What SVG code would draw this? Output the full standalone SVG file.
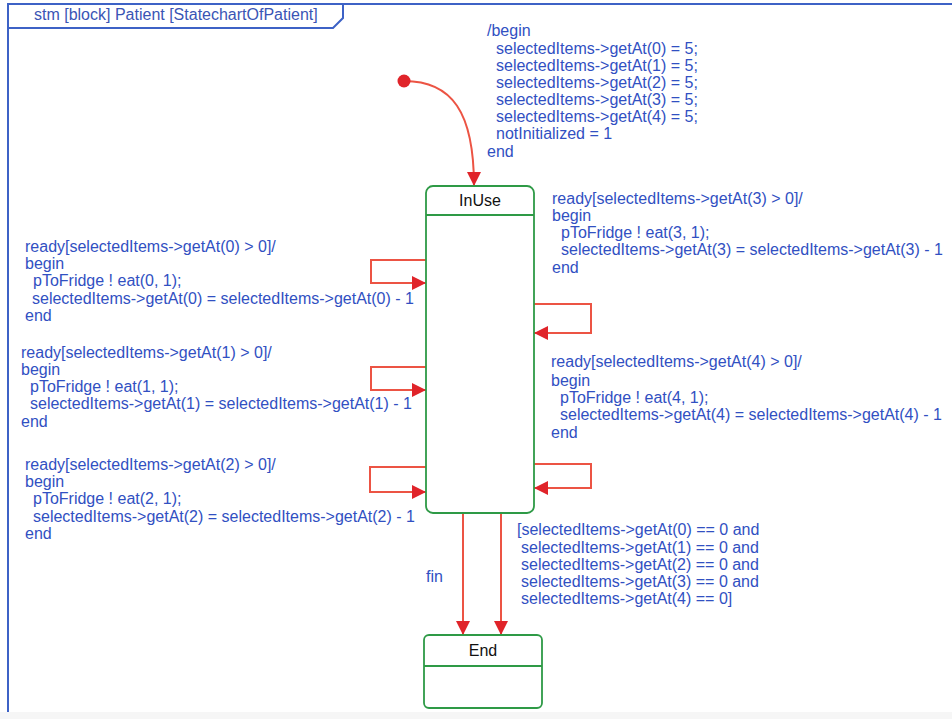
<svg xmlns="http://www.w3.org/2000/svg" width="952" height="719" viewBox="0 0 952 719">
<style>
  text { font-family: "Liberation Sans", Arial, sans-serif; font-size: 16px; fill: #3150c2; }
  .title { font-size: 16px; fill: #3a55b5; }
  .st { fill: #ffffff; stroke: #2e9a46; stroke-width: 1.8; }
  .div { stroke: #2e9a46; stroke-width: 1.8; }
  .name { fill: #111111; text-anchor: middle; }
  .tr { fill: none; stroke: #ec5444; stroke-width: 2; }
  .frame { fill: none; stroke: #3d62c6; stroke-width: 2; }
</style>
<defs>
  <marker id="ah" markerWidth="14" markerHeight="14" refX="14" refY="7" orient="auto" markerUnits="userSpaceOnUse">
    <path d="M0,0 L14,7 L0,14 Z" fill="#e0242a"/>
  </marker>
</defs>
<rect x="0" y="0" width="952" height="719" fill="#ffffff"/>
<rect x="0" y="712" width="952" height="7" fill="#f6f6f6"/>
<g id="frame">
  <path class="frame" d="M952,4 L8,4 L8,712"/>
  <path class="frame" d="M8,28 L333,28 L343,18 L343,4"/>
  <text class="title" x="34" y="20">stm [block] Patient [StatechartOfPatient]</text>
</g>
<g id="connectors">
  <path class="tr" d="M404,81 C452,81 474,112 474,186" marker-end="url(#ah)"/>
  <path class="tr" d="M426,260 L371,260 L371,283 L426,283" marker-end="url(#ah)"/>
  <path class="tr" d="M426,367 L371,367 L371,390 L426,390" marker-end="url(#ah)"/>
  <path class="tr" d="M426,467 L370,467 L370,492 L426,492" marker-end="url(#ah)"/>
  <path class="tr" d="M534,304 L591,304 L591,333 L534,333" marker-end="url(#ah)"/>
  <path class="tr" d="M534,464 L591,464 L591,488 L534,488" marker-end="url(#ah)"/>
  <path class="tr" d="M463,513 L463,635" marker-end="url(#ah)"/>
  <path class="tr" d="M501,513 L501,635" marker-end="url(#ah)"/>
</g>
<g id="initial">
  <circle cx="404" cy="81" r="6.5" fill="#e0242a"/>
</g>
<g id="InUse">
  <rect class="st" x="426" y="186" width="108" height="327" rx="7"/>
  <line class="div" x1="426" y1="215" x2="534" y2="215"/>
  <text class="name" x="480" y="206">InUse</text>
</g>
<g id="End">
  <rect class="st" x="424" y="635" width="118" height="73" rx="5"/>
  <line class="div" x1="424" y1="666" x2="542" y2="666"/>
  <text class="name" x="483" y="656">End</text>
</g>
<g id="labels">
  <text x="487" y="36">/begin</text>
  <text x="496" y="54">selectedItems-&gt;getAt(0) = 5;</text>
  <text x="496" y="71">selectedItems-&gt;getAt(1) = 5;</text>
  <text x="496" y="88">selectedItems-&gt;getAt(2) = 5;</text>
  <text x="496" y="105">selectedItems-&gt;getAt(3) = 5;</text>
  <text x="496" y="122">selectedItems-&gt;getAt(4) = 5;</text>
  <text x="496" y="139">notInitialized = 1</text>
  <text x="487" y="157">end</text>

  <text x="552" y="204">ready[selectedItems-&gt;getAt(3) &gt; 0]/</text>
  <text x="552" y="221">begin</text>
  <text x="561" y="238">pToFridge ! eat(3, 1);</text>
  <text x="561" y="255">selectedItems-&gt;getAt(3) = selectedItems-&gt;getAt(3) - 1</text>
  <text x="552" y="273">end</text>

  <text x="25" y="252">ready[selectedItems-&gt;getAt(0) &gt; 0]/</text>
  <text x="25" y="269">begin</text>
  <text x="33" y="286">pToFridge ! eat(0, 1);</text>
  <text x="32" y="304">selectedItems-&gt;getAt(0) = selectedItems-&gt;getAt(0) - 1</text>
  <text x="25" y="321">end</text>

  <text x="21" y="358">ready[selectedItems-&gt;getAt(1) &gt; 0]/</text>
  <text x="21" y="375">begin</text>
  <text x="30" y="392">pToFridge ! eat(1, 1);</text>
  <text x="30" y="409">selectedItems-&gt;getAt(1) = selectedItems-&gt;getAt(1) - 1</text>
  <text x="21" y="427">end</text>

  <text x="551" y="367">ready[selectedItems-&gt;getAt(4) &gt; 0]/</text>
  <text x="551" y="386">begin</text>
  <text x="560" y="403">pToFridge ! eat(4, 1);</text>
  <text x="560" y="420">selectedItems-&gt;getAt(4) = selectedItems-&gt;getAt(4) - 1</text>
  <text x="551" y="438">end</text>

  <text x="25" y="470">ready[selectedItems-&gt;getAt(2) &gt; 0]/</text>
  <text x="25" y="487">begin</text>
  <text x="33" y="504">pToFridge ! eat(2, 1);</text>
  <text x="33" y="522">selectedItems-&gt;getAt(2) = selectedItems-&gt;getAt(2) - 1</text>
  <text x="25" y="539">end</text>

  <text x="517" y="535">[selectedItems-&gt;getAt(0) == 0 and</text>
  <text x="521" y="553">selectedItems-&gt;getAt(1) == 0 and</text>
  <text x="521" y="570">selectedItems-&gt;getAt(2) == 0 and</text>
  <text x="521" y="587">selectedItems-&gt;getAt(3) == 0 and</text>
  <text x="521" y="604">selectedItems-&gt;getAt(4) == 0]</text>

  <text x="426" y="582">fin</text>
</g>
</svg>
